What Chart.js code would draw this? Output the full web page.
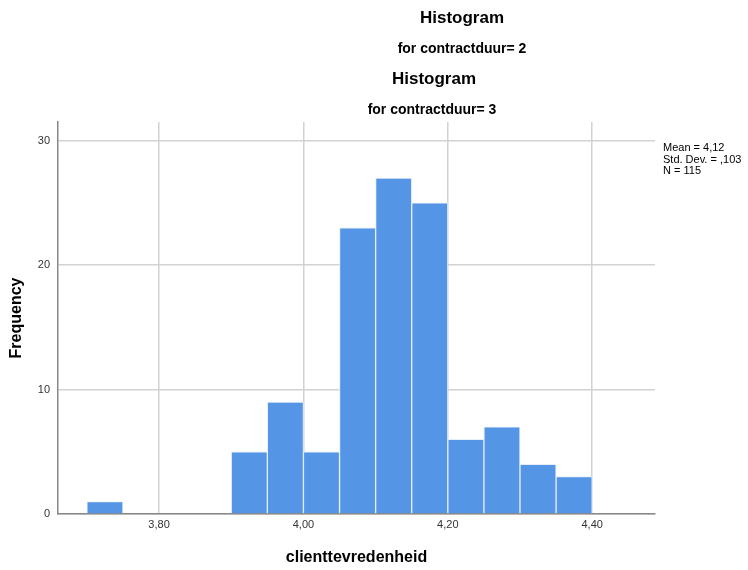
<!DOCTYPE html>
<html>
<head>
<meta charset="utf-8">
<script src="https://cdn.jsdelivr.net/npm/chart.js@4"></script>
<style>
  body { margin: 0; background: #fff; }
  #wrap { position: relative; width: 748px; height: 570px; font-family: Arial, "Liberation Sans", sans-serif; color: #000; }
  #wrap canvas { position: absolute; left: 0; top: 0; }
  .t { position: absolute; white-space: nowrap; transform: translate(-50%, -50%); font-weight: bold; }
  .big { font-size: 17px; }
  .small { font-size: 14px; }
  #stats { position: absolute; left: 663px; top: 142px; font-size: 11px; line-height: 11.5px; color: #000; }
</style>
</head>
<body>
<div id="wrap">
  <canvas id="hist" width="748" height="570"></canvas>
  <div class="t big" style="left:462px; top:18px;">Histogram</div>
  <div class="t small" style="left:462px; top:48px;">for contractduur= 2</div>
  <div class="t big" style="left:434px; top:79px;">Histogram</div>
  <div class="t small" style="left:432px; top:109px;">for contractduur= 3</div>
  <div id="stats">Mean = 4,12<br>Std. Dev. = ,103<br>N = 115</div>
</div>
<script>
// bin centres (width 0,05) and counts
const binMidden = [3.725, 3.775, 3.825, 3.875, 3.925, 3.975, 4.025, 4.075, 4.125, 4.175, 4.225, 4.275, 4.325, 4.375]
const aantallen = [1, 0, 0, 0, 5, 9, 5, 23, 27, 25, 6, 7, 4, 3]

const xTicks = [3.80, 4.00, 4.20, 4.40]
const yTicks = [0, 10, 20, 30]

const punten = binMidden.map((x, i) => ({ x: x, y: aantallen[i] }))

new Chart(document.getElementById("hist"), {
    type: 'bar',
    data: {
        datasets: [
            {
                data: punten,
                backgroundColor: "#5595e5",
                borderColor: "#e6eefa",
                borderWidth: 1,
                barPercentage: 1,
                categoryPercentage: 1
            }
        ]
    },
    options: {
        responsive: false,
        animation: false,
        layout: { padding: { top: 122, right: 93, left: 0, bottom: 0 } },
        plugins: {
            legend: { display: false },
            tooltip: { enabled: false }
        },
        scales: {
            x: {
                type: 'linear',
                offset: false,
                min: 3.66,
                max: 4.487,
                afterBuildTicks: scale => { scale.ticks = xTicks.map(v => ({ value: v })) },
                afterFit: scale => { scale.height = 56 },
                ticks: {
                    padding: 4,
                    color: '#333',
                    font: { family: 'Arial, "Liberation Sans", sans-serif', size: 11 },
                    callback: v => v.toFixed(2).replace('.', ',')
                },
                grid: { color: '#d2d2d2', lineWidth: 1.5, drawTicks: false, offset: false },
                border: { color: '#888', width: 1.5 },
                title: {
                    display: true,
                    text: 'clienttevredenheid',
                    color: '#000',
                    padding: { top: 0, bottom: 3 },
                    font: { family: 'Arial, "Liberation Sans", sans-serif', size: 16, weight: 'bold' }
                }
            },
            y: {
                min: 0,
                max: 31.5,
                afterBuildTicks: scale => { scale.ticks = yTicks.map(v => ({ value: v })) },
                afterFit: scale => { scale.width = 58 },
                ticks: {
                    padding: 8,
                    color: '#333',
                    font: { family: 'Arial, "Liberation Sans", sans-serif', size: 11 }
                },
                grid: { color: '#d2d2d2', lineWidth: 1.5, drawTicks: false },
                border: { color: '#888', width: 1.5 },
                title: {
                    display: true,
                    text: 'Frequency',
                    color: '#000',
                    padding: { top: 7, bottom: 0 },
                    font: { family: 'Arial, "Liberation Sans", sans-serif', size: 16, weight: 'bold' }
                }
            }
        }
    }
});
</script>
</body>
</html>
